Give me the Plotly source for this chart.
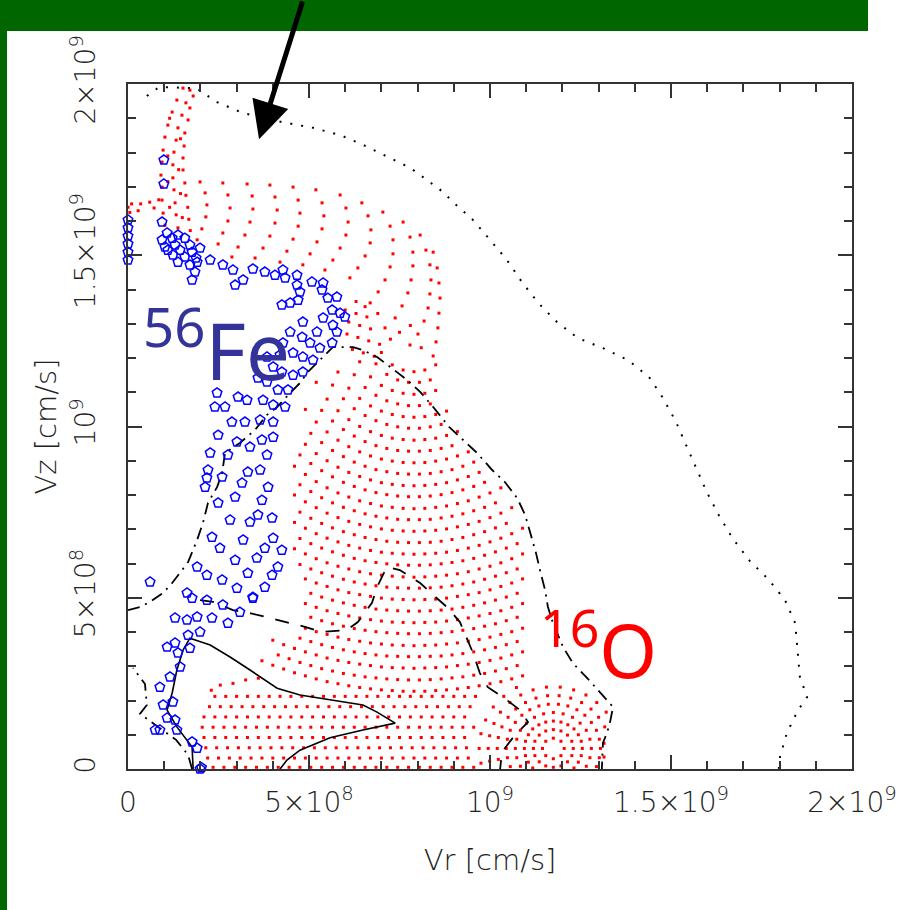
import plotly.graph_objects as go

N = None
# all velocities in units of 1e8 cm/s
x_tickvals = [0, 5, 10, 15, 20]
x_ticktext = ["0", "5×10<sup>8</sup>", "10<sup>9</sup>", "1.5×10<sup>9</sup>", "2×10<sup>9</sup>"]
y_tickvals = [0, 5, 10, 15, 20]
y_ticktext = ["0", "5×10<sup>8</sup>", "10<sup>9</sup>", "1.5×10<sup>9</sup>", "2×10<sup>9</sup>"]

# outer dotted contour
dotted_vr = [0.52,0.86,1.88,2.46,3.18,4.25,5.11,5.86,6.50,7.16,7.80,8.15,8.70,8.98,9.53,10.00,10.47,10.88,11.33,11.85,12.43,13.12,13.81,14.39,14.78,15.14,15.44,15.72,16.00,16.33,16.71,17.18,17.68,18.15,18.43,18.48,18.56,18.76,18.51,18.20,18.01,17.98]
dotted_vz = [19.65,19.91,19.88,19.47,19.15,18.89,18.72,18.51,18.22,17.87,17.55,17.28,16.85,16.55,16.03,15.45,14.86,14.22,13.61,13.05,12.58,12.29,11.94,11.45,10.83,10.13,9.43,8.73,8.06,7.39,6.72,6.07,5.55,4.93,4.26,3.68,2.69,2.10,1.72,1.05,0.35,0.0]

# dash-dot contour
dashA_vr = [0.0,0.33,0.61,0.97,1.22,1.44,1.66,1.91,2.07,2.21,2.46,2.60,2.68,3.09,3.51,3.84,4.12,4.48,4.75,4.97,5.30,5.66,6.22,6.49,6.88,7.29,7.71,8.07,8.43,8.87,9.36,9.64,10.06,10.41,10.75,10.97,11.13,11.27,11.38,11.52,11.60,11.74,12.02,12.29,12.68,13.04,13.40,13.31,13.23,13.12,13.09,13.09]
dashA_vz = [4.64,4.73,4.88,5.14,5.43,5.72,6.04,6.69,7.18,7.77,8.23,8.64,9.23,9.52,9.90,10.34,10.57,10.98,11.27,11.59,11.94,12.32,12.32,12.23,12.03,11.71,11.36,11.01,10.57,9.99,9.52,9.23,8.73,8.38,7.91,7.42,6.83,6.31,5.81,5.23,4.73,4.26,3.56,3.09,2.66,2.22,1.81,1.34,1.05,0.76,0.26,0.0]
dashA2_vr = [1.77,1.66,1.33,0.94,0.33,0.52,0.47,0.14]
dashA2_vz = [0.0,0.41,0.85,1.14,1.61,1.87,2.48,2.95]

# dashed contour
dashB_vr = [1.99,2.35,2.90,3.37,3.92,4.48,4.89,5.36,6.05,6.35,6.74,6.88,7.15,7.51,8.07,8.43,8.81,9.17,9.39,9.53,9.72,9.94,10.47,10.83,11.05,10.69,10.33,10.28]
dashB_vz = [4.93,4.88,4.64,4.55,4.41,4.26,4.15,4.00,4.06,4.29,4.85,5.31,5.90,5.81,5.43,5.08,4.73,4.29,3.77,3.39,2.80,2.39,2.01,1.72,1.37,0.99,0.50,0.0]

# solid contour
solid_vr = [1.80,1.77,1.35,1.08,1.22,1.35,1.52,1.71,2.27,2.82,3.37,4.12,4.75,5.66,6.49,6.88,7.38,6.49,5.58,4.75,4.39,4.20]
solid_vz = [0.00,0.64,1.23,1.72,2.22,2.89,3.47,3.82,3.62,3.27,2.89,2.36,2.16,2.01,1.87,1.66,1.34,1.14,0.91,0.55,0.26,0.0]

# 56Fe particles
fe_vr = [0,0,0,0,0,0, 0.99,0.99,0.94,
 0.94,1.08,1.22,1.38,1.57,1.71,1.30,1.10,1.44,1.77,1.88,1.24,1.57,1.38,1.71,1.91,1.85,1.77,1.99,1.02,
 2.27,2.62,2.90,3.18,2.96,3.45,3.78,4.06,4.28,4.34,4.67,4.67,4.75,4.70,4.48,4.25,5.08,5.39,5.36,5.52,5.77,5.64,5.86,5.99,5.39,4.83,5.22,5.66,5.77,4.48,4.81,5.03,5.30,5.64,4.28,4.56,4.83,5.11,3.84,4.01,4.20,4.25,4.56,4.83,3.59,3.84,4.14,4.42,
 2.46,2.40,2.68,3.04,3.29,3.73,4.01,4.34,2.87,3.23,3.65,4.01,2.49,3.01,3.37,3.70,4.01,2.27,2.76,3.84,2.21,2.18,2.13,2.60,3.31,3.65,3.15,3.87,2.96,3.70,2.49,2.82,3.37,3.59,3.98,2.32,2.54,3.18,3.78,4.01,4.25,2.96,3.56,4.14,1.91,2.18,2.60,3.31,3.98,3.01,3.45,3.78,1.63,1.77,2.18,0.61,2.62,2.32,2.76,3.09,3.45,1.91,1.63,1.30,1.66,1.99,1.08,1.30,1.38,1.71,1.44,1.16,0.88,0.97,1.24,1.08,1.30,0.75,0.88,1.35,1.77,1.91,1.99,2.03]
fe_vz = [16.03,15.80,15.56,15.33,15.09,14.86, 17.78,17.08,15.97,
 15.45,15.65,15.50,15.59,15.50,15.30,15.30,15.15,15.15,15.09,14.92,15.01,14.95,14.80,14.72,14.80,14.51,14.28,15.21,15.24,
 14.86,14.72,14.57,14.28,14.13,14.60,14.51,14.42,14.57,14.34,14.42,14.13,13.93,13.69,13.61,13.55,14.22,14.19,13.99,13.75,13.78,13.40,13.31,13.20,13.17,13.05,12.76,12.96,12.76,12.76,12.61,12.44,12.29,12.44,12.44,12.15,12.03,11.94,12.03,11.74,12.09,11.59,11.50,11.59,11.42,11.30,11.07,11.07,
 10.98,10.57,10.57,10.86,10.77,10.77,10.63,10.57,10.13,10.13,10.19,10.13,9.75,9.55,9.40,9.61,9.69,9.23,9.17,9.17,8.73,8.50,8.23,8.53,8.67,8.73,8.35,8.23,7.94,7.85,7.77,7.27,7.21,7.42,7.33,6.77,6.45,6.69,6.45,6.74,6.39,6.10,6.16,5.90,5.90,5.66,5.52,5.72,5.66,5.28,5.02,5.31,5.14,4.99,4.93,5.46,4.79,4.41,4.26,4.58,4.99,4.44,4.35,4.41,3.91,4.00,3.56,3.68,3.39,3.53,2.98,2.69,2.39,1.87,1.96,1.49,1.43,1.14,1.14,1.14,0.79,0.61,0.0,0.04]

# 16O particles: stem, flame and upper fan columns
stem_vr = [1.52,1.35,1.22,1.10,1.02,0.97,0.94,0.91,0.94,0.94,0.97,1.02,
 1.71,1.60,1.49,1.38,1.33,1.27,1.24,1.24,1.27,1.30,1.33,1.38,
 1.80,1.71,1.66,1.57,1.55,1.52,1.52,1.57,1.60,1.65,1.68,1.72,
 1.15,1.45,1.10,1.40,1.10,1.45,1.15,1.50,
 0.0,0.05,0.10,0.28,0.35,0.60,0.72,0.85]
stem_vz = [19.88,19.53,19.18,18.80,18.45,18.07,17.72,17.34,16.99,16.61,16.23,15.88,
 19.82,19.45,19.09,18.72,18.36,18.01,17.64,17.26,16.91,16.53,16.18,15.80,
 19.65,19.30,18.95,18.57,18.19,17.84,17.49,17.11,16.75,16.40,16.05,15.72,
 19.00,18.40,17.90,17.50,17.15,16.80,16.40,16.10,
 16.40,16.25,16.50,16.30,16.50,16.55,16.38,16.62]

fan_vr = [1.99,2.13,2.18,2.15,2.04,1.91,
 2.62,2.76,2.82,2.76,2.62,2.49,
 3.29,3.43,3.45,3.37,3.23,3.04,2.87,
 3.92,4.06,4.12,4.06,3.92,3.73,3.51,
 4.56,4.70,4.75,4.70,4.56,4.39,4.20,
 5.19,5.36,5.41,5.36,5.22,5.03,4.83,
 5.86,6.02,6.08,6.02,5.86,5.66,5.44,
 6.46,6.63,6.71,6.69,6.55,6.35,6.13,
 7.04,7.24,7.32,7.32,7.24,7.10,6.91,6.69,
 7.60,7.79,7.87,7.87,7.82,7.73,7.57,7.38,7.10,
 8.07,8.23,8.34,8.37,8.34,8.29,8.18,8.01,7.79,
 8.43,8.54,8.59,8.62,8.59,8.56,8.51,8.43,
 6.0,6.3,6.6,6.1,6.4,6.7,6.05,6.35,6.65,6.95,6.2,6.5,6.8,7.25,7.5,7.8,8.1,6.3,6.55,6.9]
fan_vz = [17.14,16.82,16.47,16.12,15.77,15.45,
 17.11,16.76,16.38,16.00,15.65,15.33,
 17.08,16.73,16.35,15.97,15.59,15.24,14.95,
 17.05,16.70,16.32,15.94,15.56,15.21,14.92,
 16.99,16.61,16.23,15.85,15.47,15.12,14.80,
 16.91,16.53,16.15,15.77,15.39,15.04,14.72,
 16.76,16.38,15.97,15.59,15.21,14.86,14.57,
 16.53,16.15,15.74,15.36,14.98,14.63,14.34,
 16.26,15.85,15.45,15.04,14.66,14.28,13.93,13.61,
 15.97,15.53,15.09,14.69,14.28,13.90,13.52,13.17,12.88,
 15.59,15.15,14.72,14.28,13.87,13.46,13.08,12.70,12.38,
 15.09,14.63,14.19,13.75,13.31,12.88,12.47,12.06,
 13.4,13.3,13.2,13.05,12.95,12.85,12.7,12.6,12.5,12.4,12.25,12.15,12.05,12.55,12.75,12.95,12.3,13.65,13.5,13.3]

# middle 16O field: two staggered tables of arcs sampled at fixed vr columns
mid_vr_grid = [3.7,4.0,4.3,4.6,4.9,5.2,5.5,5.8,6.1,6.4,6.7,7.0,7.3,7.6,7.9,8.2,8.5,8.8,9.1,9.4,9.7,10.0,10.3,10.6,10.9]
mid_arcs_vz = [
 [N,N,N,N,N,N,N,N,N,N,N,12.16,11.80,11.65,11.60,11.65,11.80,N,N,N,N,N,N,N,N],
 [N,N,N,N,N,N,N,N,N,11.89,11.45,11.20,11.05,10.97,10.94,10.97,11.05,N,N,N,N,N,N,N,N],
 [N,N,N,N,N,N,N,11.59,11.12,10.82,10.60,10.45,10.35,10.29,10.27,10.29,10.35,10.45,N,N,N,N,N,N,N],
 [N,N,N,N,N,11.29,10.80,10.46,10.20,10.00,9.85,9.74,9.66,9.62,9.60,9.62,9.66,9.74,9.85,N,N,N,N,N,N],
 [N,N,N,N,10.50,10.13,9.84,9.60,9.41,9.26,9.14,9.05,8.99,8.95,8.94,8.95,8.99,9.05,9.14,9.26,N,N,N,N,N],
 [N,N,N,N,9.48,9.21,9.00,8.81,8.66,8.54,8.44,8.36,8.31,8.28,8.27,8.28,8.31,8.36,8.44,8.54,8.66,N,N,N,N],
 [N,N,N,8.84,8.60,8.39,8.21,8.06,7.94,7.83,7.75,7.68,7.64,7.61,7.60,7.61,7.64,7.68,7.75,7.83,7.94,8.06,8.21,N,N],
 [N,N,N,8.00,7.80,7.63,7.47,7.34,7.23,7.14,7.07,7.01,6.97,6.95,6.94,6.95,6.97,7.01,7.07,7.14,7.23,7.34,7.47,7.63,N],
 [N,N,N,7.20,7.03,6.87,6.74,6.63,6.53,6.45,6.38,6.33,6.30,6.28,6.27,6.28,6.30,6.33,6.38,6.45,6.53,6.63,6.74,6.87,7.03],
 [N,N,N,6.43,6.28,6.14,6.02,5.92,5.84,5.76,5.70,5.66,5.63,5.61,5.60,5.61,5.63,5.66,5.70,5.76,5.84,5.92,6.02,6.14,6.28],
 [N,N,N,N,5.55,5.43,5.33,5.23,5.15,5.09,5.04,4.99,4.96,4.95,4.94,4.95,4.96,4.99,5.04,5.09,5.15,5.23,5.33,5.43,5.55],
 [N,N,N,N,4.83,4.72,4.62,4.54,4.47,4.41,4.36,4.32,4.29,4.28,4.27,4.28,4.29,4.32,4.36,4.41,4.47,4.54,4.62,4.72,4.83],
 [N,N,N,N,4.11,4.01,3.93,3.85,3.78,3.73,3.68,3.65,3.62,3.61,3.60,3.61,3.62,3.65,3.68,3.73,3.78,3.85,3.93,4.01,4.11],
 [N,3.76,3.63,3.52,3.42,3.33,3.24,3.17,3.11,3.06,3.02,2.98,2.96,2.95,2.94,2.95,2.96,2.98,3.02,3.06,3.11,3.17,3.24,3.33,3.42],
 [3.16,3.03,2.92,2.81,2.72,2.63,2.55,2.49,2.43,2.38,2.34,2.31,2.29,2.27,2.27,2.27,2.29,2.31,2.34,2.38,2.43,2.49,2.55,2.63,2.72],
]
mid_vr_grid_odd = [3.85,4.15,4.45,4.75,5.05,5.35,5.65,5.95,6.25,6.55,6.85,7.15,7.45,7.75,8.05,8.35,8.65,8.95,9.25,9.55,9.85,10.15,10.45,10.75]
mid_arcs_vz_odd = [
 [N,N,N,N,N,N,N,N,N,N,11.83,11.52,11.36,11.29,11.29,11.36,N,N,N,N,N,N,N,N],
 [N,N,N,N,N,N,N,N,11.51,11.14,10.91,10.75,10.66,10.61,10.61,10.66,N,N,N,N,N,N,N,N],
 [N,N,N,N,N,N,11.21,10.81,10.52,10.32,10.17,10.06,9.99,9.95,9.95,9.99,10.06,N,N,N,N,N,N,N],
 [N,N,N,N,N,10.47,10.16,9.91,9.72,9.56,9.44,9.36,9.30,9.28,9.28,9.30,9.36,9.44,N,N,N,N,N,N],
 [N,N,N,N,9.80,9.53,9.30,9.12,8.96,8.84,8.74,8.68,8.63,8.61,8.61,8.63,8.68,8.74,8.84,8.96,N,N,N,N],
 [N,N,N,9.17,8.92,8.71,8.53,8.37,8.25,8.15,8.07,8.01,7.97,7.95,7.95,7.97,8.01,8.07,8.15,8.25,8.37,N,N,N],
 [N,N,N,8.30,8.10,7.92,7.77,7.64,7.54,7.45,7.38,7.33,7.29,7.28,7.28,7.29,7.33,7.38,7.45,7.54,7.64,7.77,N,N],
 [N,N,N,7.50,7.32,7.17,7.04,6.93,6.84,6.76,6.70,6.65,6.62,6.61,6.61,6.62,6.65,6.70,6.76,6.84,6.93,7.04,7.17,N],
 [N,N,N,6.73,6.58,6.45,6.34,6.24,6.15,6.08,6.03,5.99,5.96,5.95,5.95,5.96,5.99,6.03,6.08,6.15,6.24,6.34,6.45,6.58],
 [N,N,N,5.97,5.84,5.73,5.63,5.54,5.46,5.40,5.35,5.31,5.29,5.28,5.28,5.29,5.31,5.35,5.40,5.46,5.54,5.63,5.73,5.84],
 [N,N,N,N,5.13,5.02,4.93,4.85,4.78,4.72,4.67,4.64,4.62,4.61,4.61,4.62,4.64,4.67,4.72,4.78,4.85,4.93,5.02,5.13],
 [N,N,N,N,4.43,4.33,4.24,4.17,4.10,4.05,4.01,3.98,3.96,3.95,3.95,3.96,3.98,4.01,4.05,4.10,4.17,4.24,4.33,4.43],
 [N,N,N,3.82,3.72,3.63,3.55,3.48,3.42,3.37,3.33,3.30,3.29,3.28,3.28,3.29,3.30,3.33,3.37,3.42,3.48,3.55,3.63,3.72],
 [N,3.33,3.22,3.11,3.02,2.93,2.86,2.79,2.74,2.69,2.66,2.63,2.61,2.60,2.60,2.61,2.63,2.66,2.69,2.74,2.79,2.86,2.93,3.02],
]

# low band of 16O: rows (vz) with their vr positions
band_rows_vz = [2.12, 1.82, 1.52, 1.22, 0.92, 0.62, 0.32, 0.05]
band_rows_vr = [
 [2.4,2.7,3.0,3.3,3.6,3.9,4.2,4.5,4.8,5.1,5.4,5.7,6.0,6.3,6.6,6.9,7.2,7.5,7.8,8.1,8.4,8.7,9.0,9.3,9.6],
 [2.25,2.55,2.85,3.15,3.45,3.75,4.05,4.35,4.65,4.95,5.25,5.55,5.85,6.15,6.45,6.75,7.05,7.35,7.65,7.95,8.25,8.55,8.85,9.15,9.45],
 [2.1,2.4,2.7,3.0,3.3,3.6,3.9,4.2,4.5,4.8,5.1,5.4,5.7,6.0,6.3,6.6,6.9,7.2,7.5,7.8,8.1,8.4,8.7,9.0,9.3],
 [2.05,2.35,2.65,2.95,3.25,3.55,3.85,4.15,4.45,4.75,5.05,5.35,5.65,5.95,6.25,6.55,6.85,7.15,7.45,7.75,8.05,8.35,8.65,8.95,9.25,9.55],
 [2.1,2.4,2.7,3.0,3.3,3.6,3.9,4.2,4.5,4.8,5.1,5.4,5.7,6.0,6.3,6.6,6.9,7.2,7.5,7.8,8.1,8.4,8.7,9.0,9.3],
 [2.15,2.45,2.75,3.05,3.35,3.65,3.95,4.25,4.55,4.85,5.15,5.45,5.75,6.05,6.35,6.65,6.95,7.25,7.55,7.85,8.15,8.45,8.75,9.05,9.35],
 [2.2,2.5,2.8,3.1,3.4,3.7,4.0,4.3,4.6,4.9,5.2,5.5,5.8,6.1,6.4,6.7,7.0,7.3,7.6,7.9,8.2,8.5,8.8,9.1,9.4],
 [2.35,2.65,2.95,3.25,3.55,3.85,4.15,4.45,4.75,5.05,5.35,5.65,5.95,6.25,6.55,6.85,7.15,7.45,7.75,8.05,8.35,8.65,8.95,9.25,9.55],
]

# concentric knot of 16O near the bottom right + small fillers
knot_vr = [12.05,11.96,11.75,11.54,11.45,11.54,11.75,11.96,
 12.30,12.26,12.14,11.96,11.75,11.54,11.36,11.24,11.20,11.24,11.36,11.54,11.75,11.96,12.14,12.26,
 12.55,12.52,12.44,12.32,12.15,11.96,11.75,11.54,11.35,11.18,11.06,10.98,10.95,10.98,11.06,11.18,12.32,12.44,12.52,
 12.80,12.76,12.66,12.49,12.28,12.02,11.75,11.48,11.23,11.01,10.84,10.74,10.70,10.74,10.84,12.66,12.76,
 13.05,13.02,12.94,12.80,12.62,12.40,12.15,11.89,11.61,11.35,11.10,10.88,10.70,10.56,10.48,10.45,10.48,10.56,12.94,13.02,
 13.17,13.00,12.79,12.53,12.23,11.91,11.59,11.27,10.98,10.71,10.50,10.33,10.23,10.20,10.23,13.15,13.15,
 13.21,12.95,12.65,12.31,11.94,11.56,11.19,10.85,10.55,10.29,10.11,9.99,9.95,9.99,
 10.73,10.38,10.09,9.88,9.75,9.70,9.75,
 2.55,2.9,3.25,3.6,2.3]
knot_vz = [0.60,0.81,0.90,0.81,0.60,0.39,0.30,0.39,
 0.60,0.81,0.99,1.11,1.15,1.11,0.99,0.81,0.60,0.39,0.21,0.09,0.05,0.09,0.21,0.39,
 0.60,0.81,1.00,1.17,1.29,1.37,1.40,1.37,1.29,1.17,1.00,0.81,0.60,0.39,0.20,0.03,0.03,0.20,0.39,
 0.60,0.87,1.13,1.34,1.51,1.61,1.65,1.61,1.51,1.34,1.13,0.87,0.60,0.33,0.08,0.08,0.33,
 0.60,0.87,1.13,1.36,1.57,1.73,1.84,1.89,1.89,1.84,1.73,1.57,1.36,1.13,0.87,0.60,0.33,0.07,0.07,0.33,
 1.23,1.51,1.75,1.94,2.07,2.14,2.14,2.07,1.94,1.75,1.51,1.23,0.92,0.60,0.28,0.35,0.75,
 1.66,1.94,2.16,2.31,2.39,2.39,2.31,2.16,1.94,1.66,1.33,0.97,0.60,0.23,
 2.38,2.12,1.81,1.43,1.03,0.60,0.17,
 2.45,2.50,2.60,2.65,2.30]

# ---------- assemble the 16O point set from the tables ----------
o_vr = stem_vr + fan_vr + knot_vr
o_vz = stem_vz + fan_vz + knot_vz
for grid, table in ((mid_vr_grid, mid_arcs_vz), (mid_vr_grid_odd, mid_arcs_vz_odd)):
    for row in table:
        for vr, vz in zip(grid, row):
            if vz is not None:
                o_vr.append(vr)
                o_vz.append(vz)
for vz, vrs in zip(band_rows_vz, band_rows_vr):
    for vr in vrs:
        o_vr.append(vr)
        o_vz.append(vz)

fig = go.Figure()
fig.add_trace(go.Scatter(x=o_vr, y=o_vz, mode="markers",
                         marker=dict(symbol="square", size=3, color="#ff0000", line=dict(width=0)),
                         hoverinfo="skip"))
fig.add_trace(go.Scatter(x=dotted_vr, y=dotted_vz, mode="lines",
                         line=dict(color="black", width=2, dash="2px,9px"), hoverinfo="skip"))
fig.add_trace(go.Scatter(x=dashA_vr, y=dashA_vz, mode="lines",
                         line=dict(color="black", width=1.8, dash="12px,6px,2px,6px"), hoverinfo="skip"))
fig.add_trace(go.Scatter(x=dashA2_vr, y=dashA2_vz, mode="lines",
                         line=dict(color="black", width=1.8, dash="12px,6px,2px,6px"), hoverinfo="skip"))
fig.add_trace(go.Scatter(x=dashB_vr, y=dashB_vz, mode="lines",
                         line=dict(color="black", width=1.8, dash="14px,12px"), hoverinfo="skip"))
fig.add_trace(go.Scatter(x=solid_vr, y=solid_vz, mode="lines",
                         line=dict(color="black", width=1.6), hoverinfo="skip"))
fig.add_trace(go.Scatter(x=fe_vr, y=fe_vz, mode="markers", cliponaxis=False,
                         marker=dict(symbol="pentagon-open", size=10, color="#0000ff",
                                     line=dict(width=1.5, color="#0000ff")),
                         hoverinfo="skip"))

tick_font = dict(family="DejaVu Sans", size=28, color="#222222", weight=200)
title_font = dict(family="DejaVu Sans", size=29, color="#222222", weight=200)
axis_common = dict(range=[0, 20], tickmode="array", ticks="inside", ticklen=14, tickwidth=2,
                   tickcolor="#333333", showline=True, linecolor="#333333", linewidth=2,
                   mirror="ticks", showgrid=False, zeroline=False, tickfont=tick_font,
                   automargin=False,
                   minor=dict(tickmode="linear", tick0=0, dtick=1, ticks="inside", ticklen=8,
                              tickwidth=1.5, tickcolor="#333333", showgrid=False))

fig.update_xaxes(**axis_common, tickvals=x_tickvals, ticktext=x_ticktext, ticklabelstandoff=7,
                 title=dict(text="Vr [cm/s]", font=title_font, standoff=32))
fig.update_yaxes(**axis_common, tickvals=y_tickvals, ticktext=y_ticktext, tickangle=-90,
                 ticklabelstandoff=20,
                 title=dict(text="Vz [cm/s]", font=title_font, standoff=0))

# green frame of the slide
fig.add_shape(type="rect", xref="paper", yref="paper", x0=-0.1768, x1=1.0221, y0=1.0774, y1=1.1226,
              fillcolor="#006600", line=dict(width=0), layer="above")
fig.add_shape(type="rect", xref="paper", yref="paper", x0=-0.1768, x1=-0.1671, y0=-0.2058, y1=1.1226,
              fillcolor="#006600", line=dict(width=0), layer="above")

fig.add_annotation(x=3.62, y=18.39, xref="x", yref="y", text="", showarrow=True,
                   ax=44, ay=-150, axref="pixel", ayref="pixel", arrowhead=2, arrowsize=1.5,
                   arrowwidth=5, arrowcolor="black", standoff=0)
fig.add_annotation(x=0.36, y=12.35, xref="x", yref="y", text="<sup>56</sup>Fe", showarrow=False,
                   xanchor="left", yanchor="middle",
                   font=dict(family="Noto Sans", size=78, color="#333399"))
fig.add_annotation(x=11.33, y=3.6, xref="x", yref="y", text="<sup>16</sup>O", showarrow=False,
                   xanchor="left", yanchor="middle",
                   font=dict(family="Noto Sans", size=74, color="#ff0000"))

fig.update_layout(width=901, height=910, margin=dict(l=128, r=49, t=84, b=141, autoexpand=False),
                  paper_bgcolor="white", plot_bgcolor="white", showlegend=False)

fig.write_html("out.html")
